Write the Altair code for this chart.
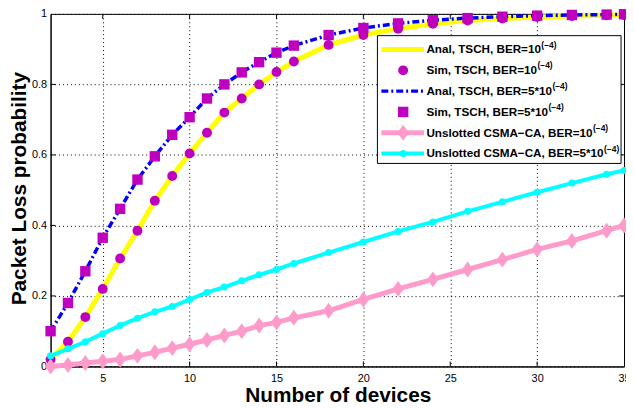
import altair as alt
import pandas as pd

# ---------------- data ----------------
xs = [2, 3, 4, 5, 6, 7, 8, 9, 10, 11, 12, 13, 14, 15, 16,
      18, 20, 22, 24, 26, 28, 30, 32, 34, 35]

tsch_1e4 = [0.02, 0.07, 0.14, 0.22, 0.306, 0.385, 0.47, 0.54, 0.604, 0.663,
            0.72, 0.76, 0.80, 0.835, 0.865,
            0.912, 0.94, 0.958, 0.972, 0.981, 0.987, 0.991, 0.994, 0.996, 0.997]
tsch_5e4 = [0.10, 0.18, 0.27, 0.365, 0.447, 0.53, 0.596, 0.657, 0.707, 0.76,
            0.80, 0.834, 0.863, 0.89, 0.91,
            0.94, 0.96, 0.973, 0.982, 0.988, 0.992, 0.995, 0.997, 0.998, 0.999]
csma_1e4 = [0.0, 0.004, 0.01, 0.015, 0.02, 0.03, 0.04, 0.052, 0.063, 0.075,
            0.088, 0.10, 0.116, 0.125, 0.138,
            0.158, 0.19, 0.22, 0.247, 0.275, 0.303, 0.332, 0.356, 0.385, 0.40]
csma_5e4 = [0.03, 0.05, 0.07, 0.093, 0.116, 0.137, 0.155, 0.17, 0.19, 0.21,
            0.225, 0.243, 0.26, 0.275, 0.292,
            0.323, 0.353, 0.383, 0.41, 0.44, 0.467, 0.494, 0.52, 0.545, 0.556]

x_ticks = [5, 10, 15, 20, 25, 30, 35]
y_ticks = [0, 0.2, 0.4, 0.6, 0.8, 1]

legend_main = [
    "Anal, TSCH, BER=10",
    "Sim, TSCH, BER=10",
    "Anal, TSCH, BER=5*10",
    "Sim, TSCH, BER=5*10",
    "Unslotted CSMA\u2212CA, BER=10",
    "Unslotted CSMA\u2212CA, BER=5*10",
]
legend_sup = "(\u22124)"

# ---------------- styling ----------------
W, H = 579, 356
FONT = "Liberation Sans"
YELLOW = "#FFFF00"
PURPLE = "#BF00BF"
BLUE = "#0000FF"
PINK = "#FF9BCB"
CYAN = "#00FFFF"
DIAMOND = "M0,-1L0.72,0L0,1L-0.72,0Z"
LEG_FS = 11.8
SUP_FS = 8.5

# Arial/Liberation Sans Bold advance widths (per 1000 em) for legend layout
BOLD_W = {"A": 722, "n": 611, "a": 556, "l": 278, ",": 278, " ": 278, "T": 611,
          "S": 667, "C": 722, "H": 722, "B": 722, "E": 667, "R": 722, "=": 584,
          "1": 556, "0": 556, "5": 556, "*": 389, "i": 278, "m": 889, "U": 722,
          "s": 556, "o": 611, "t": 333, "e": 556, "d": 611, "M": 833, "\u2212": 584}


def text_w(s, fs):
    return sum(BOLD_W.get(c, 556) for c in s) * fs / 1000.0


def frame(vals):
    return pd.DataFrame({"x": xs, "y": vals})


X = alt.X("x:Q",
          scale=alt.Scale(domain=[2, 35], nice=False, zero=False),
          axis=alt.Axis(values=x_ticks, title="Number of devices",
                        labelFlush=False, labelPadding=6,
                        titleX=290, titleY=35, titleBaseline="alphabetic"))
Y = alt.Y("y:Q",
          scale=alt.Scale(domain=[0, 1], nice=False),
          axis=alt.Axis(values=y_ticks, format="~g",
                        title="Packet Loss probability",
                        labelFlush=False, labelPadding=4,
                        titleX=-25.5, titleY=176, titleAngle=-90,
                        titleBaseline="alphabetic", titleAlign="center"))

layers = []
# inward tick marks (MATLAB style)
tx = pd.DataFrame({"x": x_ticks[:-1]})
ty = pd.DataFrame({"y": y_ticks[1:-1]})
layers.append(alt.Chart(tx).mark_rule(color="black", strokeWidth=1).encode(
    x=X, y=alt.value(H), y2=alt.value(H - 5)))
layers.append(alt.Chart(tx).mark_rule(color="black", strokeWidth=1).encode(
    x=X, y=alt.value(0), y2=alt.value(5)))
layers.append(alt.Chart(ty).mark_rule(color="black", strokeWidth=1).encode(
    y=Y, x=alt.value(0), x2=alt.value(5)))
layers.append(alt.Chart(ty).mark_rule(color="black", strokeWidth=1).encode(
    y=Y, x=alt.value(W - 5), x2=alt.value(W)))

# series
layers.append(alt.Chart(frame(tsch_1e4)).mark_line(color=YELLOW, strokeWidth=5).encode(x=X, y=Y))
layers.append(alt.Chart(frame(tsch_1e4)).mark_point(shape="circle", filled=True, color=PURPLE,
                                                   opacity=1, size=100).encode(x=X, y=Y))
layers.append(alt.Chart(frame(tsch_5e4)).mark_line(color=BLUE, strokeWidth=3.5,
                                                  strokeDash=[7, 3, 2, 3]).encode(x=X, y=Y))
layers.append(alt.Chart(frame(tsch_5e4)).mark_point(shape="square", filled=True, color=PURPLE,
                                                   opacity=1, size=110).encode(x=X, y=Y))
layers.append(alt.Chart(frame(csma_1e4)).mark_line(color=PINK, strokeWidth=5).encode(x=X, y=Y))
layers.append(alt.Chart(frame(csma_1e4)).mark_point(shape=DIAMOND, filled=True, color=PINK,
                                                   opacity=1, size=260).encode(x=X, y=Y))
layers.append(alt.Chart(frame(csma_5e4)).mark_line(color=CYAN, strokeWidth=4).encode(x=X, y=Y))
layers.append(alt.Chart(frame(csma_5e4)).mark_point(shape="circle", filled=True, color=CYAN,
                                                   opacity=1, size=50).encode(x=X, y=Y))

# ---------------- manual legend ----------------
one = pd.DataFrame({"k": [0]})
LX0, LX1, LY0, LY1 = 330, 576, 22, 151
layers.append(alt.Chart(one).mark_rect(fill="white", stroke="black", strokeWidth=1).encode(
    x=alt.value(LX0), x2=alt.value(LX1), y=alt.value(LY0), y2=alt.value(LY1)))

rows = [36, 57, 78, 99, 120, 141]
SX0, SX1, SM, TX = 334, 377, 356, 379.5

layers.append(alt.Chart(one).mark_rule(color=YELLOW, strokeWidth=5).encode(
    x=alt.value(SX0), x2=alt.value(SX1), y=alt.value(rows[0])))
layers.append(alt.Chart(one).mark_point(shape="circle", filled=True, color=PURPLE, opacity=1,
                                        size=100).encode(x=alt.value(SM), y=alt.value(rows[1])))
layers.append(alt.Chart(one).mark_rule(color=BLUE, strokeWidth=3.5, strokeDash=[7, 3, 2, 3]).encode(
    x=alt.value(SX0), x2=alt.value(SX1), y=alt.value(rows[2])))
layers.append(alt.Chart(one).mark_point(shape="square", filled=True, color=PURPLE, opacity=1,
                                        size=110).encode(x=alt.value(SM), y=alt.value(rows[3])))
layers.append(alt.Chart(one).mark_rule(color=PINK, strokeWidth=5).encode(
    x=alt.value(SX0), x2=alt.value(SX1), y=alt.value(rows[4])))
layers.append(alt.Chart(one).mark_point(shape=DIAMOND, filled=True, color=PINK, opacity=1,
                                        size=260).encode(x=alt.value(SM), y=alt.value(rows[4])))
layers.append(alt.Chart(one).mark_rule(color=CYAN, strokeWidth=4).encode(
    x=alt.value(SX0), x2=alt.value(SX1), y=alt.value(rows[5])))
layers.append(alt.Chart(one).mark_point(shape="circle", filled=True, color=CYAN, opacity=1,
                                        size=50).encode(x=alt.value(SM), y=alt.value(rows[5])))

for r, lab in zip(rows, legend_main):
    layers.append(alt.Chart(one).mark_text(align="left", baseline="middle", font=FONT,
                                           fontSize=LEG_FS, fontWeight="bold", color="black").encode(
        x=alt.value(TX), y=alt.value(r), text=alt.value(lab)))
    layers.append(alt.Chart(one).mark_text(align="left", baseline="middle", font=FONT,
                                           fontSize=SUP_FS, fontWeight="bold", color="black").encode(
        x=alt.value(TX + text_w(lab, LEG_FS) + 0.3), y=alt.value(r - 5),
        text=alt.value(legend_sup)))

chart = alt.layer(*layers).properties(
    width=W, height=H,
    autosize=alt.AutoSizeParams(type="none"),
    padding={"left": 43, "top": 4, "right": 2, "bottom": 38},
    background="white",
).configure_view(
    stroke="black", strokeWidth=1
).configure_axis(
    grid=True, gridColor="black", gridDash=[1, 3], gridWidth=1, gridOpacity=1,
    domainColor="black", domainWidth=1, ticks=False, tickSize=0,
    labelFont=FONT, labelFontSize=11, labelColor="black",
    titleFont=FONT, titleFontSize=21, titleFontWeight="bold", titleColor="black",
)

chart.save("out.html", embed_options={"renderer": "svg", "actions": False})
